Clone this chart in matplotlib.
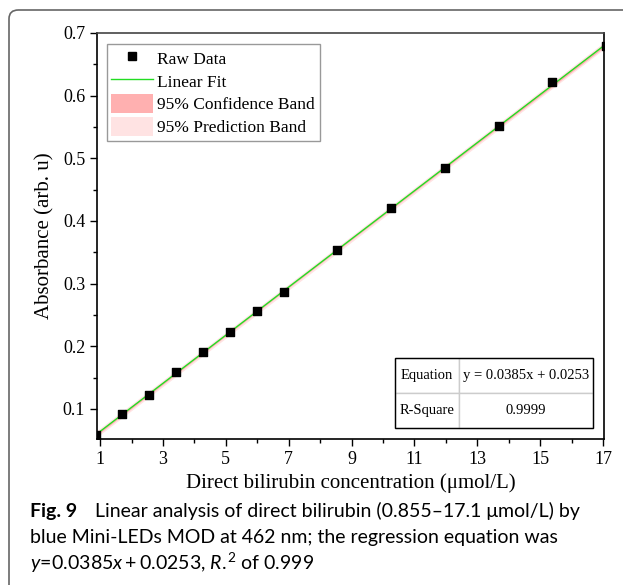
import numpy as np
import matplotlib
matplotlib.use("Agg")
import matplotlib.pyplot as plt
from matplotlib.lines import Line2D
from matplotlib.patches import Patch, FancyBboxPatch, Rectangle

# data
conc = [0.855, 1.71, 2.565, 3.42, 4.275, 5.13, 5.985, 6.84,
        8.55, 10.26, 11.97, 13.68, 15.39, 17.1]
absorb = [0.058, 0.092, 0.122, 0.159, 0.191, 0.222, 0.257, 0.287,
          0.354, 0.420, 0.484, 0.551, 0.622, 0.679]
eq_text = "y = 0.0385x + 0.0253"
r2_text = "0.9999"
T95 = 2.179  # t(0.975, 12 dof)

x = np.array(conc)
y = np.array(absorb)
n = len(x)
slope, icpt = np.polyfit(x, y, 1)
resid = y - (slope * x + icpt)
s = np.sqrt(np.sum(resid ** 2) / (n - 2))
xf = np.linspace(0.7, 17.3, 200)
yf = slope * xf + icpt
sxx = np.sum((x - x.mean()) ** 2)
conf = T95 * s * np.sqrt(1 / n + (xf - x.mean()) ** 2 / sxx)
pred = T95 * s * np.sqrt(1 + 1 / n + (xf - x.mean()) ** 2 / sxx)

SERIF = ["Liberation Serif", "DejaVu Serif"]
plt.rcParams["font.family"] = SERIF
plt.rcParams["mathtext.fontset"] = "custom"
plt.rcParams["mathtext.rm"] = "Lato"
plt.rcParams["mathtext.it"] = "Lato:italic"

fig = plt.figure(figsize=(6.23, 5.85), dpi=100)
ax = fig.add_axes([0.1557, 0.2496, 0.8138, 0.694])

pred_c = "#ffe3e3"
conf_c = "#ffb0b0"
ax.fill_between(xf, yf - pred, yf + pred, color=pred_c, lw=0, zorder=1)
ax.fill_between(xf, yf - conf, yf + conf, color=conf_c, lw=0, zorder=2)
ax.plot(xf, yf, color="#22dd22", lw=1.0, zorder=3)
ax.scatter(x, y, marker="s", s=38, color="black", zorder=4)

ax.set_xlim(0.9, 17.03)
ax.set_ylim(0.052, 0.7)
ax.set_xticks(np.arange(1, 18, 2))
ax.set_xticks(np.arange(2, 17, 2), minor=True)
ax.set_yticks([0.1, 0.2, 0.3, 0.4, 0.5, 0.6, 0.7])
ax.set_yticks(np.arange(0.15, 0.7, 0.1), minor=True)
ax.tick_params(which="major", direction="out", length=5, width=1, labelsize=13)
ax.tick_params(which="minor", direction="out", length=3, width=1)
for sp in ax.spines.values():
    sp.set_linewidth(1.2)
ax.spines["top"].set_color("#444444")

ax.set_xlabel("Direct bilirubin concentration (\u03bcmol/L)", fontsize=15, labelpad=4)
ax.set_ylabel("Absorbance (arb. u)", fontsize=15, labelpad=6)

handles = [
    Line2D([], [], marker="s", ls="none", color="black", markersize=6),
    Line2D([], [], color="#22dd22", lw=1.0),
    Patch(facecolor=conf_c, edgecolor="none"),
    Patch(facecolor=pred_c, edgecolor="none"),
]
labels = ["Raw Data", "Linear Fit", "95% Confidence Band", "95% Prediction Band"]
leg = ax.legend(handles, labels, loc="upper left", bbox_to_anchor=(0.02, 0.972),
                fontsize=12.5, fancybox=False, edgecolor="#999999", framealpha=1,
                borderpad=0.25, labelspacing=0.2, handlelength=2.4,
                handleheight=1.3, handletextpad=0.25, borderaxespad=0)
leg.get_frame().set_linewidth(1.0)

# fit summary table
tab = ax.table(cellText=[["Equation", eq_text], ["R-Square", r2_text]],
               cellLoc="center", colWidths=[0.323, 0.677],
               bbox=[0.588, 0.027, 0.39, 0.1725], zorder=5)
tab.auto_set_font_size(False)
for cell in tab.get_celld().values():
    cell.PAD = 0.02
    cell.set_edgecolor("#cccccc")
    cell.set_linewidth(1.0)
    cell.get_text().set_fontsize(10.5)
    cell.get_text().set_fontfamily(SERIF)
ax.add_patch(Rectangle((0.588, 0.027), 0.39, 0.1725, transform=ax.transAxes,
                       fill=False, edgecolor="black", lw=1.0, zorder=6))

# page frame
fig.patches.append(FancyBboxPatch((9 / 623, -0.05), 1.2, 1 - 10 / 585 + 0.05,
                                  boxstyle="round,pad=0,rounding_size=0.015",
                                  transform=fig.transFigure, fill=False,
                                  edgecolor="#666666", lw=1.2))

# caption
cap_font = "Lato"
fig.text(30 / 623, 1 - 511 / 585, "Fig. 9", fontsize=14, fontweight="bold",
         family=cap_font, va="center")
fig.text(95 / 623, 1 - 511 / 585,
         "Linear analysis of direct bilirubin (0.855\u201317.1 \u03bcmol/L) by",
         fontsize=14, family=cap_font, va="center")
fig.text(30 / 623, 1 - 537 / 585,
         "blue Mini-LEDs MOD at 462 nm; the regression equation was",
         fontsize=14, family=cap_font, va="center")
fig.text(30 / 623, 1 - 563 / 585,
         r"$y\!=\!0.0385x+0.0253$, $R.^{\!2}$ of 0.999",
         fontsize=14, family=cap_font, va="center")

fig.savefig("out.png", dpi=100)
